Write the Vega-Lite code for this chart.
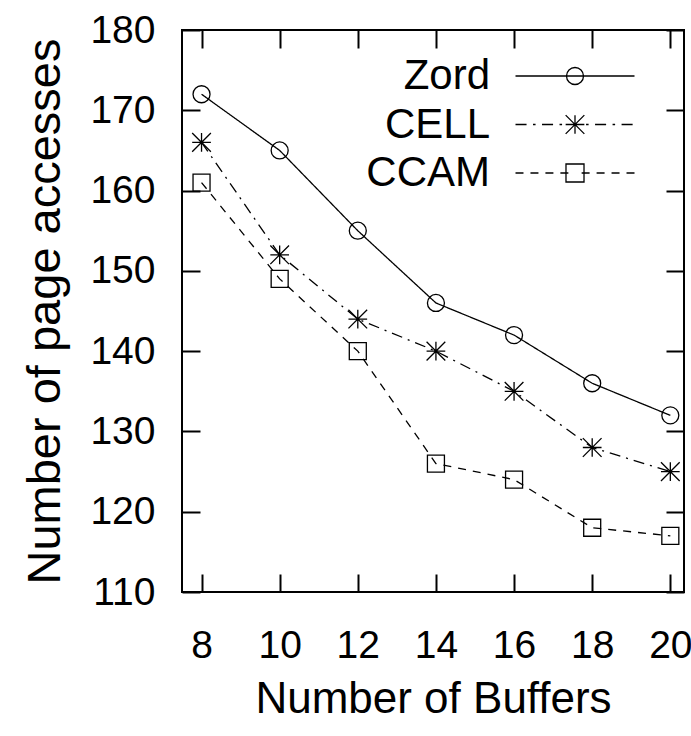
{
  "$schema": "https://vega.github.io/schema/vega-lite/v6.json",
  "width": 502,
  "height": 562,
  "autosize": {"type": "none"},
  "padding": {"left": 182, "top": 30, "right": 7, "bottom": 144},
  "background": "white",
  "data": {
    "values": [
      {"series": "Zord", "buffers": 8, "accesses": 172},
      {"series": "Zord", "buffers": 10, "accesses": 165},
      {"series": "Zord", "buffers": 12, "accesses": 155},
      {"series": "Zord", "buffers": 14, "accesses": 146},
      {"series": "Zord", "buffers": 16, "accesses": 142},
      {"series": "Zord", "buffers": 18, "accesses": 136},
      {"series": "Zord", "buffers": 20, "accesses": 132},
      {"series": "CELL", "buffers": 8, "accesses": 166},
      {"series": "CELL", "buffers": 10, "accesses": 152},
      {"series": "CELL", "buffers": 12, "accesses": 144},
      {"series": "CELL", "buffers": 14, "accesses": 140},
      {"series": "CELL", "buffers": 16, "accesses": 135},
      {"series": "CELL", "buffers": 18, "accesses": 128},
      {"series": "CELL", "buffers": 20, "accesses": 125},
      {"series": "CCAM", "buffers": 8, "accesses": 161},
      {"series": "CCAM", "buffers": 10, "accesses": 149},
      {"series": "CCAM", "buffers": 12, "accesses": 140},
      {"series": "CCAM", "buffers": 14, "accesses": 126},
      {"series": "CCAM", "buffers": 16, "accesses": 124},
      {"series": "CCAM", "buffers": 18, "accesses": 118},
      {"series": "CCAM", "buffers": 20, "accesses": 117}
    ]
  },
  "layer": [
    {
      "mark": {"type": "line", "stroke": "black", "strokeWidth": 1.3, "strokeCap": "butt"},
      "encoding": {
        "x": {
          "field": "buffers", "type": "quantitative",
          "scale": {"domain": [7.5, 20.35], "nice": false, "zero": false},
          "axis": {"orient": "bottom", "values": [8, 10, 12, 14, 16, 18, 20], "title": "Number of Buffers", "labelPadding": 52, "titlePadding": 12, "titleFontSize": 44}
        },
        "y": {
          "field": "accesses", "type": "quantitative",
          "scale": {"domain": [110, 180], "nice": false, "zero": false},
          "axis": {"orient": "left", "values": [110, 120, 130, 140, 150, 160, 170, 180], "title": "Number of page accesses", "labelPadding": 45, "titlePadding": 20, "titleFontSize": 47}
        },
        "strokeDash": {
          "field": "series", "type": "nominal",
          "scale": {"domain": ["Zord", "CELL", "CCAM"], "range": [[1, 0], [11, 6, 2, 6], [8, 7]]},
          "legend": null
        }
      }
    },
    {
      "mark": {"type": "point", "filled": false, "stroke": "black", "strokeWidth": 1.3, "size": 289, "opacity": 1},
      "encoding": {
        "x": {
          "field": "buffers", "type": "quantitative",
          "axis": {"orient": "top", "values": [8, 10, 12, 14, 16, 18, 20], "labels": false, "title": null}
        },
        "y": {
          "field": "accesses", "type": "quantitative",
          "axis": {"orient": "right", "values": [110, 120, 130, 140, 150, 160, 170, 180], "labels": false, "title": null}
        },
        "shape": {
          "field": "series", "type": "nominal",
          "scale": {"domain": ["Zord", "CELL", "CCAM"], "range": ["circle", "M-1.1,0H1.1M0,-1.1V1.1M-1.1,-1.1L1.1,1.1M-1.1,1.1L1.1,-1.1", "square"]},
          "legend": null
        }
      }
    },
    {
      "transform": [{"filter": "false"}],
      "mark": {"type": "point", "filled": false, "stroke": "black", "strokeWidth": 1.3, "size": 289, "opacity": 1},
      "encoding": {
        "x": {"field": "buffers", "type": "quantitative", "axis": null},
        "y": {"field": "accesses", "type": "quantitative", "axis": null},
        "shape": {
          "field": "series", "type": "nominal",
          "scale": {"domain": ["Zord", "CELL", "CCAM"], "range": [
            "M-7,0H7M1,0C1,0.5523,0.5523,1,0,1C-0.5523,1,-1,0.5523,-1,0C-1,-0.5523,-0.5523,-1,0,-1C0.5523,-1,1,-0.5523,1,0Z",
            "M-7,0H-5.7M-4.94,0H-4.64M-3.88,0H-2.58M-1.82,0H-1.52M-0.76,0H0.54M1.3,0H1.6M2.36,0H3.66M4.42,0H4.72M5.48,0H6.78M-1.1,0H1.1M0,-1.1V1.1M-1.1,-1.1L1.1,1.1M-1.1,1.1L1.1,-1.1",
            "M-7,0H-6.06M-5.24,0H-4.3M-3.48,0H-2.54M-1.72,0H-0.78M0.78,0H1.72M2.54,0H3.48M4.3,0H5.24M6.06,0H7M-1.06,-1.06H1.06V1.06H-1.06Z"
          ]},
          "legend": {
            "orient": "none", "legendX": 372, "legendY": 25, "title": null, "padding": 0,
            "labelFontSize": 42, "labelAlign": "right", "labelOffset": -106, "labelLimit": 500, "labelColor": "black", "labelFont": "Liberation Sans",
            "symbolSize": 289, "rowPadding": 6.5, "symbolStrokeWidth": 1.3, "symbolStrokeColor": "black", "symbolFillColor": "transparent"
          }
        }
      }
    }
  ],
  "resolve": {"axis": {"x": "independent", "y": "independent"}, "scale": {"shape": "independent"}},
  "config": {
    "font": "Liberation Sans",
    "view": {"stroke": "black", "strokeWidth": 2},
    "axis": {
      "grid": false, "domain": false, "tickColor": "black", "tickWidth": 2, "tickSize": -18,
      "labelColor": "black", "labelFontSize": 39, "labelFont": "Liberation Sans", "labelFlush": false, "labelOverlap": false,
      "titleColor": "black", "titleFontWeight": "normal", "titleFont": "Liberation Sans"
    },
    "point": {"filled": false}
  },
  "encoding": {}
}
